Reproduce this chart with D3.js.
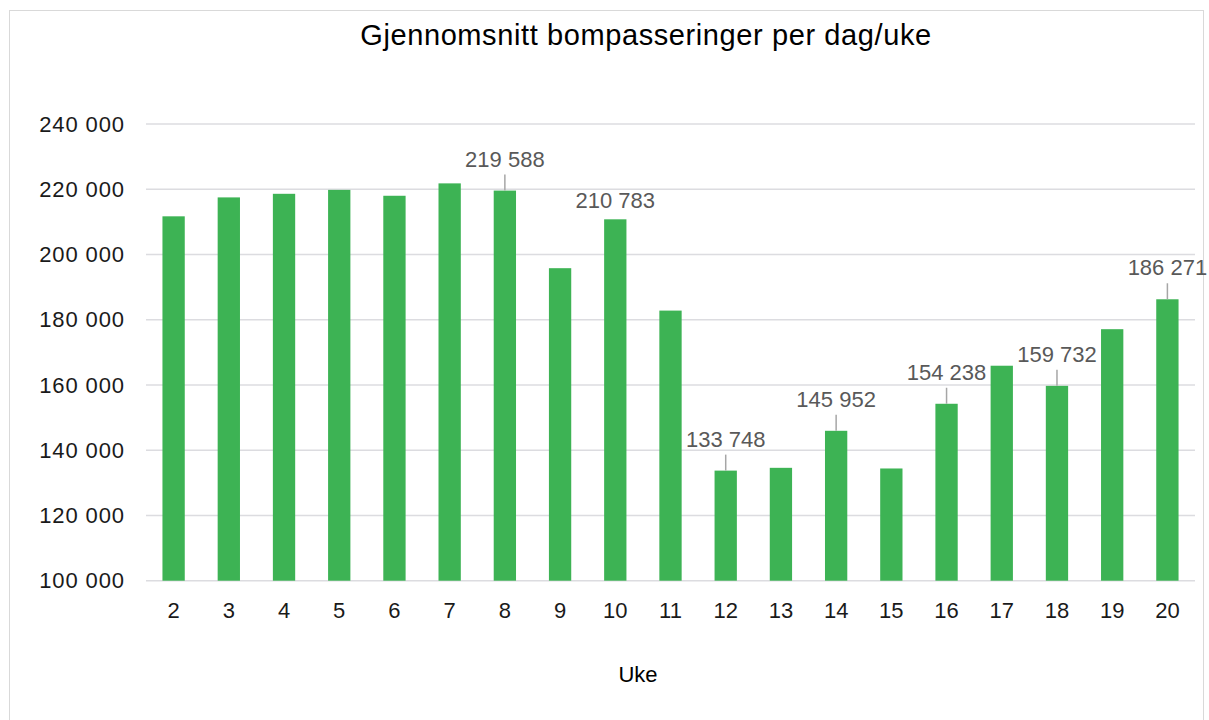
<!DOCTYPE html>
<html>
<head>
<meta charset="utf-8">
<script src="https://cdnjs.cloudflare.com/ajax/libs/d3/7.8.5/d3.min.js"></script>
<style>
  body { margin: 0; background: #fff; }
  text { font-family: "Liberation Sans", Arial, sans-serif; }
</style>
</head>
<body>
<div id="chart"></div>
<script>
// data
let weeks = [2, 3, 4, 5, 6, 7, 8, 9, 10, 11, 12, 13, 14, 15, 16, 17, 18, 19, 20];
let passes = [211700, 217500, 218600, 219800, 218000, 221800, 219588, 195800, 210783,
	182800, 133748, 134600, 145952, 134400, 154238, 165900, 159732, 177100, 186271];
let labelledWeeks = [8, 10, 12, 14, 16, 18, 20];
let noLeaderWeeks = [10];
let yTicks = [100000, 120000, 140000, 160000, 180000, 200000, 220000, 240000];
let title = 'Gjennomsnitt bompasseringer per dag/uke';
let xTitle = 'Uke';

let width = 1209;
let height = 720;
let plot = {left: 146, right: 1195, top: 124, bottom: 580.7};

let svg = d3.select('#chart')
	.append('svg')
	.attr('width', width)
	.attr('height', height);

// chart frame
svg.append('rect')
	.attr('x', 9.5)
	.attr('y', 10.5)
	.attr('width', 1194)
	.attr('height', 730)
	.attr('fill', 'none')
	.attr('stroke', '#d9d9d9');

let x = d3.scaleBand()
	.domain(weeks)
	.range([plot.left, plot.right])
	.paddingInner(0.596)
	.paddingOuter(0.298);

let y = d3.scaleLinear()
	.domain([100000, 240000])
	.range([plot.bottom, plot.top]);

let fmt = function(v){
	return d3.format(',')(v).replace(/,/g, ' ');
};

// gridlines
svg.append('g')
	.selectAll('line')
	.data(yTicks)
	.enter()
	.append('line')
	.attr('x1', plot.left)
	.attr('x2', plot.right)
	.attr('y1', d => y(d))
	.attr('y2', d => y(d))
	.attr('stroke', '#dcdce0')
	.attr('stroke-width', 1.5);

// y axis labels
let yAxis = svg.append('g')
	.attr('transform', 'translate(125,0)')
	.call(d3.axisLeft(y).tickValues(yTicks).tickFormat(fmt).tickSize(0).tickPadding(0));
yAxis.select('.domain').remove();
yAxis.selectAll('text')
	.attr('font-size', 22)
	.attr('letter-spacing', 0.9)
	.attr('fill', '#1a1a1a')
	.style('font-family', '"Liberation Sans", Arial, sans-serif');

let data = weeks.map((w, i) => ({week: w, value: passes[i]}));

// bars
svg.append('g')
	.selectAll('rect')
	.data(data)
	.enter()
	.append('rect')
	.attr('x', d => x(d.week))
	.attr('y', d => y(d.value))
	.attr('width', x.bandwidth())
	.attr('height', d => y(100000) - y(d.value))
	.attr('fill', '#3db354');

// x axis labels
let xAxis = svg.append('g')
	.attr('transform', 'translate(0,' + plot.bottom + ')')
	.call(d3.axisBottom(x).tickSize(0).tickPadding(22));
xAxis.select('.domain').remove();
xAxis.selectAll('text')
	.attr('font-size', 22)
	.attr('fill', '#1a1a1a')
	.style('font-family', '"Liberation Sans", Arial, sans-serif');

// data labels with leader lines
let labelled = data.filter(d => labelledWeeks.includes(d.week));

svg.append('g')
	.selectAll('line')
	.data(labelled.filter(d => !noLeaderWeeks.includes(d.week)))
	.enter()
	.append('line')
	.attr('x1', d => x(d.week) + x.bandwidth()/2)
	.attr('x2', d => x(d.week) + x.bandwidth()/2)
	.attr('y1', d => y(d.value))
	.attr('y2', d => y(d.value) - 16)
	.attr('stroke', '#a6a6a6')
	.attr('stroke-width', 1.5);

svg.append('g')
	.selectAll('text')
	.data(labelled)
	.enter()
	.append('text')
	.attr('text-anchor', 'middle')
	.attr('x', d => x(d.week) + x.bandwidth()/2)
	.attr('y', function(d){
		if(noLeaderWeeks.includes(d.week)) return y(d.value) - 11;
		return y(d.value) - 24;
	})
	.attr('font-size', 22)
	.attr('fill', '#595959')
	.text(d => fmt(d.value));

// titles
svg.append('text')
	.attr('text-anchor', 'middle')
	.attr('x', 646)
	.attr('y', 45)
	.attr('font-size', 29)
	.attr('letter-spacing', 0.6)
	.attr('fill', '#000')
	.text(title);

svg.append('text')
	.attr('text-anchor', 'middle')
	.attr('x', 638)
	.attr('y', 682)
	.attr('font-size', 22)
	.attr('fill', '#000')
	.text(xTitle);
</script>
</body>
</html>
